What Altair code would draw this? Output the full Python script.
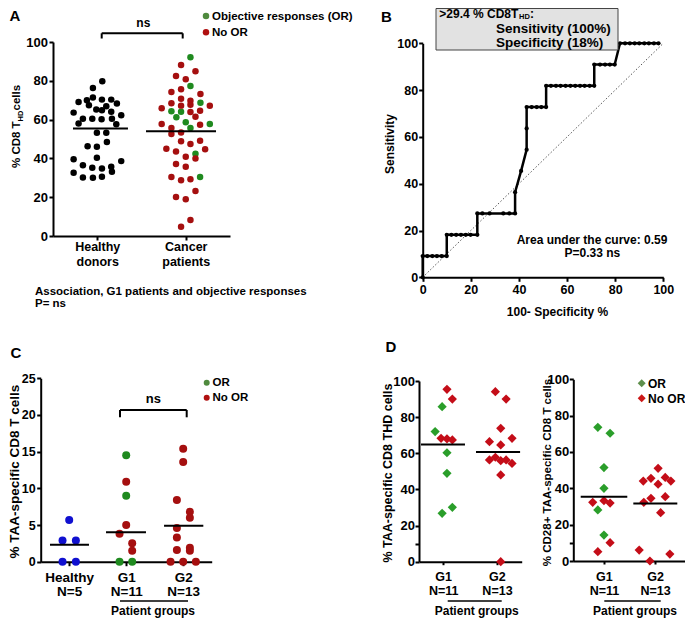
import altair as alt
import pandas as pd

FONT = "Liberation Sans"
W, H = 677, 610

# ---------------- colours ----------------
BLACK = "#000000"
RED_A = "#a50f0f"
GREEN_A = "#1f8a1f"
LEG_GREEN = "#4f8a3e"
LEG_RED = "#b01010"
BLUE_C = "#1010d0"
RED_D = "#c40d18"
GREEN_D = "#2a9e2a"

# ---------------- Panel A data ----------------
A_groups = [["Healthy", "donors"], ["Cancer", "patients"]]
A_healthy_val = [79.8, 76.3, 69.1, 70.0, 71.4, 70.3, 70.3, 68.3, 67.4, 66.9, 63.6, 65.2, 64.8, 64.0, 62.3,
                 60.4, 60.4, 60.2, 60.4, 58.0, 57.6, 53.2, 53.2, 48.5, 46.3, 46.0, 39.6, 40.3, 38.6, 36.5,
                 35.2, 34.8, 35.7, 32.6, 33.1, 30.2, 30.0, 30.5]
A_healthy_off = [0.057, -0.049, -0.211, -0.117, -0.049, 0.053, 0.158, 0.222, -0.094, 0.102, -0.267, -0.011,
                 0.053, 0.158, 0.271, -0.162, -0.056, 0.049, 0.166, -0.211, 0.215, 0.102, -0.004, 0.109,
                 -0.109, -0.004, -0.267, -0.004, 0.271, -0.162, -0.056, 0.053, 0.158, -0.267, 0.166,
                 -0.162, -0.049, 0.053]
A_or_val = [92.1, 77.3, 68.7, 64.3, 64.1, 61.2, 58.6, 57.7, 55.7, 42.4, 30.4]
A_or_off = [0.053, 0.053, 0.166, -0.162, -0.053, -0.106, 0.0, 0.272, 0.053, 0.11, 0.162]
A_no_val = [88.1, 84.9, 82.5, 80.8, 74.2, 75.6, 73.2, 70.8, 69.7, 68.4, 67.2, 67.6, 65.8, 67.1, 63.9,
            64.6, 61.5, 57.7, 57.4, 55.7, 52.6, 53.3, 48.8, 47.4, 49.1, 45.0, 43.6, 44.7, 40.9, 39.9,
            37.1, 35.7, 30.4, 28.7, 29.2, 23.2, 20.1, 18.9, 8.2, 4.8]
A_no_off = [-0.053, 0.11, -0.11, 0.0, -0.162, -0.053, 0.166, -0.053, 0.053, -0.162, -0.053, 0.053, -0.272,
            0.272, 0.053, 0.162, 0.11, -0.272, 0.162, -0.162, -0.162, -0.053, -0.053, 0.053, 0.162,
            -0.219, -0.11, 0.219, 0.0, 0.11, -0.11, 0.0, -0.162, -0.053, 0.053, 0.11, -0.11, 0.0,
            0.053, -0.053]
A_means = [55.4, 54.0]
A_mean_x1 = [0.726, 1.551]
A_mean_x2 = [1.347, 2.342]

# ---------------- Panel B data (ROC) ----------------
B_x = [0, 0, 1.9, 4.0, 5.9, 7.9, 10.0,
       10.0, 11.9, 13.9, 15.9, 17.9, 19.9, 22.7,
       22.7, 24.8, 27.8, 33.5, 36.0, 38.4,
       38.4, 40.9, 43.2, 43.2, 43.2,
       45.3, 47.4, 49.3, 51.3,
       51.3, 53.3, 55.4, 57.3, 59.4, 61.4, 63.4, 65.4, 67.3, 69.4, 71.3,
       71.3, 73.7, 75.8, 77.8, 79.8,
       82.0, 84.1, 86.1, 88.1, 90.0, 92.1, 94.0, 96.1, 98.0]
B_y = [0, 9.09, 9.09, 9.09, 9.09, 9.09, 9.09,
       18.18, 18.18, 18.18, 18.18, 18.18, 18.18, 18.18,
       27.27, 27.27, 27.27, 27.27, 27.27, 27.27,
       36.36, 45.45, 54.55, 63.64, 72.73,
       72.73, 72.73, 72.73, 72.73,
       81.82, 81.82, 81.82, 81.82, 81.82, 81.82, 81.82, 81.82, 81.82, 81.82, 81.82,
       90.91, 90.91, 90.91, 90.91, 90.91,
       100, 100, 100, 100, 100, 100, 100, 100, 100]
B_diag = [0, 100]

# ---------------- Panel C data ----------------
C_groups = [["Healthy", "N=5"], ["G1", "N=11"], ["G2", "N=13"]]
C_h_val = [5.7, 2.9, 2.9, 0, 0]
C_h_off = [0, -0.117, 0.117, -0.117, 0.117]
C_g1_or_val = [14.5, 9.0, 0, 0]
C_g1_or_off = [0, 0, -0.117, 0.105]
C_g1_no_val = [10.9, 5.0, 3.8, 2.5, 1.5]
C_g1_no_off = [0, 0, -0.117, 0.105, 0.105]
C_g2_no_val = [15.4, 13.6, 8.4, 6.8, 6.0, 4.6, 3.3, 1.6, 1.9, 1.5, 0, 0, 0]
C_g2_no_off = [0, 0, -0.111, 0.117, 0.117, -0.111, -0.111, -0.111, 0.117, 0.117, -0.222, 0, 0.222]
C_means = [2.3, 4.0, 4.9]
C_mean_x1 = [0.663, 1.646, 2.664]
C_mean_x2 = [1.347, 2.347, 3.353]

# ---------------- Panel D data ----------------
D_groups = [["G1", "N=11"], ["G2", "N=13"]]
D1_g1_or_val = [85.8, 72.0, 60.3, 48.9, 26.8, 30.1]
D1_g1_or_off = [-0.02, -0.15, 0.07, 0.07, -0.02, 0.17]
D1_g1_no_val = [95.4, 90.0, 68.3, 68.0, 67.4]
D1_g1_no_off = [0.07, 0.17, -0.04, 0.07, 0.17]
D1_g2_no_val = [94.1, 90.0, 73.8, 66.4, 68.3, 64.6, 56.3, 57.8, 55.9, 56.3, 54.4, 48.0, 0]
D1_g2_no_off = [-0.03, 0.17, 0.07, -0.14, 0.28, 0.07, -0.14, -0.03, 0.07, 0.17, 0.28, 0.07, 0.07]
D1_means = [64.8, 60.7]
D1_mean_x1 = [0.587, 1.61]
D1_mean_x2 = [1.405, 2.43]

D2_g1_or_val = [73.6, 70.3, 51.4, 40.0, 28.1, 14.3]
D2_g1_or_off = [-0.12, 0.12, 0.0, 0.0, -0.12, 0.0]
D2_g1_no_val = [32.3, 33.2, 31.9, 10.1, 5.1]
D2_g1_no_off = [-0.22, 0.0, 0.12, 0.12, -0.12]
D2_g2_no_val = [51.0, 44.0, 45.5, 46.0, 44.0, 42.3, 32.3, 34.5, 35.4, 26.6, 6.0, 0, 3.8]
D2_g2_no_off = [0.06, -0.23, -0.08, 0.2, 0.31, 0.06, -0.22, -0.08, 0.2, 0.11, -0.31, -0.1, 0.29]
D2_means = [35.4, 31.7]
D2_mean_x1 = [0.545, 1.575]
D2_mean_x2 = [1.457, 2.436]

TICKS100 = [0, 20, 40, 60, 80, 100]
TICKS100_MINOR = [0, 10, 20, 40, 60, 80, 100]


# ---------------- helpers ----------------
def sc(dom, rng):
    return alt.Scale(domain=dom, range=rng, nice=False, zero=False)


def label_expr(groups):
    arrs = ["[" + ", ".join("'" + s + "'" for s in g) + "]" for g in groups]
    expr = arrs[-1]
    for i in range(len(arrs) - 2, -1, -1):
        expr = f"datum.value == {i + 1} ? {arrs[i]} : ({expr})"
    return expr


AX = dict(grid=False, title=None, tickWidth=2, domainWidth=2, tickColor=BLACK, domainColor=BLACK,
          labelColor=BLACK, labelFont=FONT, labelFontWeight="bold", labelFlush=False, labelOverlap=False)


def yaxis(offset, values, size, tick=4, pad=1.5, hide=None):
    kw = dict(AX)
    if hide is not None:
        kw["labelExpr"] = f"datum.value == {hide} ? '' : datum.label"
    return alt.Axis(orient="left", offset=offset, values=values, labelFontSize=size, tickSize=tick,
                    labelPadding=pad, **kw)


def xaxis(offset, values, size, tick=4, pad=2, groups=None, lh=14):
    kw = dict(AX)
    if groups is not None:
        kw["labelExpr"] = label_expr(groups)
        kw["labelLineHeight"] = lh
        kw["labelBaseline"] = "top"
    return alt.Axis(orient="bottom", offset=offset, values=values, labelFontSize=size, tickSize=tick,
                    labelPadding=pad, **kw)


def frame(parts):
    rows = []
    for center, name, offs, vals in parts:
        for o, v in zip(offs, vals):
            rows.append({"x": center + o, "y": v, "g": name})
    return pd.DataFrame(rows)


def dots(df, xs, ys, xa, ya, dom, rng, shape, size):
    return alt.Chart(df).mark_point(filled=True, opacity=1, shape=shape, size=size).encode(
        x=alt.X("x:Q", scale=xs, axis=xa),
        y=alt.Y("y:Q", scale=ys, axis=ya),
        color=alt.Color("g:N", scale=alt.Scale(domain=dom, range=rng), legend=None),
    )


def means(m, x1, x2, xs, ys):
    df = pd.DataFrame({"m": m, "x1": x1, "x2": x2})
    return alt.Chart(df).mark_rule(color=BLACK, strokeWidth=2).encode(
        x=alt.X("x1:Q", scale=xs, axis=None), x2="x2:Q", y=alt.Y("m:Q", scale=ys, axis=None))


ONE = pd.DataFrame({"d": [0]})
ann = []


def T(s, x, y, size, align="center", angle=0, baseline="middle", color=BLACK):
    ann.append(alt.Chart(ONE).mark_text(font=FONT, fontSize=size, fontWeight="bold", align=align,
                                        baseline=baseline, angle=angle, color=color)
               .encode(x=alt.value(x), y=alt.value(y), text=alt.value(s)))


def R(x1, y1, x2, y2, w=2):
    ann.append(alt.Chart(ONE).mark_rule(strokeWidth=w, color=BLACK)
               .encode(x=alt.value(x1), y=alt.value(y1), x2=alt.value(x2), y2=alt.value(y2)))


def S(x, y, shape, size, color):
    ann.append(alt.Chart(ONE).mark_point(filled=True, opacity=1, shape=shape, size=size, color=color)
               .encode(x=alt.value(x), y=alt.value(y)))


layers = []

# ---------------- Panel A ----------------
Ax = sc([0.5, 2.5], [45, 222])
Ay = sc([0, 100], [228, 34])
A_df = frame([(1, "HD", A_healthy_off, A_healthy_val), (2, "OR", A_or_off, A_or_val),
              (2, "NoOR", A_no_off, A_no_val)])
layers.append(dots(A_df, Ax, Ay, xaxis(228 - H, [1, 2], 12.5, 4, 0.5, A_groups, 14.5), yaxis(-45, TICKS100, 13),
                   ["HD", "OR", "NoOR"], [BLACK, GREEN_A, RED_A], "circle", 42))
layers.append(means(A_means, A_mean_x1, A_mean_x2, Ax, Ay))

# ---------------- Panel B ----------------
Bx = sc([0, 100], [414.7, 655.3])
By = sc([0, 100], [269.3, 35.3])
B_df = pd.DataFrame({"x": B_x, "y": B_y, "i": list(range(len(B_x)))})
diag_df = pd.DataFrame({"x": [B_diag[0]], "y": [B_diag[0]], "x2": [B_diag[1]], "y2": [B_diag[1]]})
layers.append(alt.Chart(diag_df).mark_rule(color="#555555", strokeWidth=1, strokeDash=[1.5, 2]).encode(
    x=alt.X("x:Q", scale=Bx, axis=xaxis(269.3 - H, TICKS100, 12.5, 4, 2)),
    y=alt.Y("y:Q", scale=By, axis=yaxis(-414.7, TICKS100, 12.5, 4, 1)),
    x2="x2:Q", y2="y2:Q"))
layers.append(alt.Chart(B_df).mark_line(color=BLACK, strokeWidth=2.5, strokeJoin="round").encode(
    x=alt.X("x:Q", scale=Bx, axis=None), y=alt.Y("y:Q", scale=By, axis=None), order="i:Q"))
layers.append(alt.Chart(B_df).mark_point(filled=True, opacity=1, color=BLACK, size=18).encode(
    x=alt.X("x:Q", scale=Bx, axis=None), y=alt.Y("y:Q", scale=By, axis=None)))

# ---------------- Panel C ----------------
Cx = sc([0.5, 3.5], [32.7, 203.7])
Cy = sc([0, 25], [553.7, 370.3])
C_df = frame([(1, "H", C_h_off, C_h_val), (2, "OR", C_g1_or_off, C_g1_or_val),
              (2, "NoOR", C_g1_no_off, C_g1_no_val), (3, "NoOR", C_g2_no_off, C_g2_no_val)])
layers.append(dots(C_df, Cx, Cy, xaxis(553.7 - H, [1, 2, 3], 13.5, 4, 4.5, C_groups, 14),
                   yaxis(-32.7, [0, 5, 10, 15, 20, 25], 12.5), ["H", "OR", "NoOR"],
                   [BLUE_C, GREEN_A, RED_A], "circle", 64))
layers.append(means(C_means, C_mean_x1, C_mean_x2, Cx, Cy))

# ---------------- Panel D (left) ----------------
D1x = sc([0.55, 2.46], [411, 513.7])
D1y = sc([0, 100], [553.7, 373])
D1_df = frame([(1, "OR", D1_g1_or_off, D1_g1_or_val), (1, "NoOR", D1_g1_no_off, D1_g1_no_val),
               (2, "NoOR", D1_g2_no_off, D1_g2_no_val)])
layers.append(dots(D1_df, D1x, D1y, xaxis(553.7 - H, [1, 2], 12.5, 3, 5.5, D_groups, 14),
                   yaxis(-411, TICKS100_MINOR, 13, 4, 0.5, hide=10), ["OR", "NoOR"], [GREEN_D, RED_D],
                   "diamond", 85))
layers.append(means(D1_means, D1_mean_x1, D1_mean_x2, D1x, D1y))

# ---------------- Panel D (right) ----------------
D2x = sc([0.4, 2.62], [565.3, 678.7])
D2y = sc([0, 100], [553, 371.3])
D2_df = frame([(1, "OR", D2_g1_or_off, D2_g1_or_val), (1, "NoOR", D2_g1_no_off, D2_g1_no_val),
               (2, "NoOR", D2_g2_no_off, D2_g2_no_val)])
layers.append(dots(D2_df, D2x, D2y, xaxis(553 - H, [1, 2], 12.5, 3, 6.5, D_groups, 14),
                   yaxis(-565.3, TICKS100_MINOR, 13, 4, 0.5, hide=10), ["OR", "NoOR"], [GREEN_D, RED_D],
                   "diamond", 85))
layers.append(means(D2_means, D2_mean_x1, D2_mean_x2, D2x, D2y))

# ---------------- annotations ----------------
# A
T("A", 7, 8, 15)
T("ns", 135.3, 14.7, 12)
R(93.7, 25.3, 174.7, 25.3)
R(93.7, 25.3, 93.7, 30.5)
R(174.7, 25.3, 174.7, 30.5)
S(198, 8, "circle", 42, LEG_GREEN)
T("Objective responses (OR)", 204, 8.5, 11.5, align="left")
S(198, 24.3, "circle", 42, LEG_RED)
T("No OR", 204, 24.8, 11.5, align="left")
T("% CD8 T", 12, 160, 11.5, align="left", angle=270, baseline="alphabetic")
T("HD", 14.5, 113.5, 7.5, align="left", angle=270, baseline="alphabetic")
T(" cells", 12, 102.5, 11.5, align="left", angle=270, baseline="alphabetic")
T("Association, G1 patients and objective responses", 27, 284, 11.5, align="left")
T("P= ns", 27, 295.5, 11.5, align="left")

# B
T("B", 378.5, 9, 15)
ann.append(alt.Chart(ONE).mark_rect(fill="#e2e2e2", stroke="#444444", strokeWidth=1).encode(
    x=alt.value(428), x2=alt.value(610), y=alt.value(0.5), y2=alt.value(42)))
T(">29.4 % CD8T", 431.3, 9.5, 12, align="left", baseline="alphabetic")
T("HD", 511, 11.2, 7.5, align="left", baseline="alphabetic")
T(":", 522, 9.5, 12, align="left", baseline="alphabetic")
T("Sensitivity (100%)", 488, 21, 13.5, align="left")
T("Specificity (18%)", 488, 34.8, 13.5, align="left")
T("Area under the curve: 0.59", 584, 232, 12)
T("P=0.33 ns", 584.3, 245.3, 12)
T("100- Specificity %", 549.5, 303.7, 12)
T("Sensitivity", 382, 136, 12, angle=270)

# C
T("C", 8, 344.5, 15)
T("ns", 145.3, 391, 13)
R(112, 402, 178.7, 402)
R(112, 402, 112, 409.3)
R(178.7, 402, 178.7, 409.3)
S(198.7, 374.7, "circle", 36, LEG_GREEN)
T("OR", 204.5, 375, 11.5, align="left")
S(198.7, 389.7, "circle", 36, LEG_RED)
T("No OR", 204.5, 390, 11.5, align="left")
T("% TAA-specific CD8 T cells", 7, 463.7, 13.5, angle=270)
R(112, 593, 180, 593, 1.5)
T("Patient groups", 145, 602.5, 12)

# D
T("D", 383, 338.5, 15)
T("% TAA-specific CD8 THD cells", 380, 465, 12.5, angle=270)
T("% CD28+ TAA-specific CD8 T cells", 539.5, 464.5, 11.5, angle=270)
S(633.7, 375.3, "diamond", 64, "#5e8f4c")
T("OR", 640, 375.5, 12, align="left")
S(633.7, 390.3, "diamond", 64, "#cc1818")
T("No OR", 640, 390.5, 12, align="left")
R(439.7, 593, 493.7, 593, 1.5)
T("Patient groups", 468.7, 602.5, 12)
R(596.3, 593, 652.7, 593, 1.5)
T("Patient groups", 627, 602.5, 12)

chart = alt.layer(*layers, *ann).properties(
    width=W, height=H, padding=0, autosize=alt.AutoSizeParams(type="none")
).resolve_scale(
    x="independent", y="independent", color="independent"
).resolve_axis(
    x="independent", y="independent"
).configure(font=FONT).configure_view(stroke=None)

chart.save("out.html", embed_options={"renderer": "svg", "actions": False})
